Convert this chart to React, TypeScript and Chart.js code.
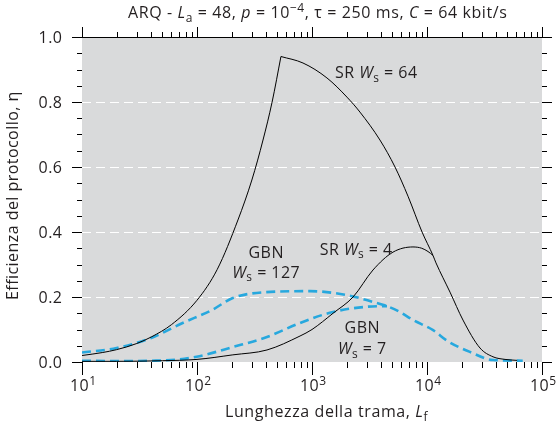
import React, { useEffect, useRef } from "react";
import { Chart, registerables } from "chart.js";
Chart.register(...registerables);

// ---- axis data ----
const xMin = 10;
const xMax = 100000;
const yMin = 0;
const yMax = 1.0;
const yMajorTicks = [0, 0.2, 0.4, 0.6, 0.8, 1.0];
const yTickLabels = ["0.0", "0.2", "0.4", "0.6", "0.8", "1.0"];
const yGridValues = [0.2, 0.4, 0.6, 0.8];
const xDecades = [10, 100, 1000, 10000, 100000];
const xExponents = ["1", "2", "3", "4", "5"];

// ---- series ----
// SR Ws = 64 : rising branch and falling branch (sharp peak)
const srW64RiseL = [10, 15, 20, 30, 40, 60, 100, 150, 227, 300, 375, 450, 537];
const srW64RiseEta = [0.02, 0.029, 0.038, 0.057, 0.077, 0.115, 0.19, 0.285, 0.437, 0.56, 0.683, 0.8, 0.94];
const srW64FallL = [537, 835, 1349, 2014, 2612, 3898, 5270, 6838, 9057, 11270, 11970, 15850, 20560, 28900, 37500, 47700, 60700];
const srW64FallEta = [0.94, 0.92, 0.874, 0.815, 0.769, 0.683, 0.6, 0.51, 0.4, 0.328, 0.305, 0.215, 0.129, 0.043, 0.016, 0.008, 0.005];

// SR Ws = 4 (joins SR Ws = 64 at the right)
const srW4L = [10, 20, 50, 100, 205, 406, 787, 1000, 1524, 2275, 3390, 5060, 7550, 9000, 10200, 11270];
const srW4Eta = [0.002, 0.002, 0.004, 0.008, 0.022, 0.037, 0.08, 0.1, 0.15, 0.2, 0.283, 0.338, 0.354, 0.35, 0.34, 0.328];

// GBN Ws = 127
const gbnW127L = [10, 20, 40, 75, 135, 205, 400, 960, 2000, 3390, 4490, 5800, 7500, 11300, 15000, 23600, 37500, 68000];
const gbnW127Eta = [0.029, 0.043, 0.074, 0.12, 0.16, 0.197, 0.215, 0.218, 0.206, 0.185, 0.172, 0.154, 0.13, 0.098, 0.065, 0.031, 0.006, 0.004];

// GBN Ws = 7 (joins GBN Ws = 127)
const gbnW7L = [10, 20, 40, 70, 105, 205, 406, 787, 1523, 3000, 4490];
const gbnW7Eta = [0.004, 0.003, 0.004, 0.008, 0.018, 0.046, 0.077, 0.12, 0.154, 0.17, 0.172];

// ---- annotations (data coordinates) ----
type Run = { t: string; it?: boolean; sub?: boolean; sup?: boolean };
const annotL = [3606, 2415, 398, 398, 2722, 2722];
const annotEta = [0.892, 0.348, 0.338, 0.277, 0.108, 0.043];
const annotRuns: Run[][] = [
  [{ t: "SR " }, { t: "W", it: true }, { t: "s", sub: true }, { t: " = 64" }],
  [{ t: "SR " }, { t: "W", it: true }, { t: "s", sub: true }, { t: " = 4" }],
  [{ t: "GBN" }],
  [{ t: "W", it: true }, { t: "s", sub: true }, { t: " = 127" }],
  [{ t: "GBN" }],
  [{ t: "W", it: true }, { t: "s", sub: true }, { t: " = 7" }],
];

const titleRuns: Run[] = [
  { t: "ARQ - " }, { t: "L", it: true }, { t: "a", sub: true }, { t: " = 48, " },
  { t: "p", it: true }, { t: " = 10" }, { t: "\u22124", sup: true }, { t: ", \u03c4 = 250 ms, " },
  { t: "C", it: true }, { t: " = 64 kbit/s" },
];
const xTitleRuns: Run[] = [{ t: "Lunghezza della trama, " }, { t: "L", it: true }, { t: "f", sub: true }];
const yTitleRuns: Run[] = [{ t: "Efficienza del protocollo, \u03b7" }];

const FAMILY = '"Open Sans", "DejaVu Sans", sans-serif';
const BLUE = "#27a8de";
const GRAY_BG = "#d9dadb";
const TEXT = "#231f20";

function drawRuns(ctx: CanvasRenderingContext2D, runs: Run[], x: number, y: number, size: number, align: "left" | "center" | "right", spacing = 0.45) {
  const fontFor = (r: Run) => `${r.it ? "italic " : ""}${r.sub || r.sup ? Math.round(size * 0.72) : size}px ${FAMILY}`;
  let w = 0;
  for (const r of runs) {
    ctx.font = fontFor(r);
    for (const ch of r.t) w += ctx.measureText(ch).width + spacing;
  }
  w -= spacing;
  let cx = align === "center" ? x - w / 2 : align === "right" ? x - w : x;
  ctx.textAlign = "left";
  ctx.textBaseline = "alphabetic";
  for (const r of runs) {
    ctx.font = fontFor(r);
    const dy = r.sub ? size * 0.22 : r.sup ? -size * 0.38 : 0;
    for (const ch of r.t) {
      ctx.fillText(ch, cx, y + dy);
      cx += ctx.measureText(ch).width + spacing;
    }
  }
}

const framePlugin = {
  id: "frame",
  beforeDraw(chart: any) {
    const { ctx, chartArea } = chart;
    const ys = chart.scales.y;
    ctx.save();
    ctx.fillStyle = GRAY_BG;
    ctx.fillRect(chartArea.left, chartArea.top, chartArea.right - chartArea.left, chartArea.bottom - chartArea.top);
    ctx.strokeStyle = "#ffffff";
    ctx.lineWidth = 1;
    ctx.setLineDash([9, 5]);
    for (const v of yGridValues) {
      const py = Math.round(ys.getPixelForValue(v)) + 0.5;
      ctx.beginPath();
      ctx.moveTo(chartArea.left, py);
      ctx.lineTo(chartArea.right, py);
      ctx.stroke();
    }
    ctx.restore();
  },
  afterDraw(chart: any) {
    const { ctx, chartArea } = chart;
    const xs = chart.scales.x;
    const ys = chart.scales.y;
    const L = chartArea.left, R = chartArea.right, T = chartArea.top, B = chartArea.bottom;
    ctx.save();
    ctx.strokeStyle = "#000";
    ctx.fillStyle = TEXT;
    ctx.lineWidth = 1;
    ctx.setLineDash([]);
    // top border
    ctx.beginPath();
    ctx.moveTo(L, Math.round(T) + 0.5);
    ctx.lineTo(R, Math.round(T) + 0.5);
    ctx.stroke();
    // y ticks (left and right, outward)
    for (let i = 0; i <= 20; i++) {
      const v = i * 0.05;
      const py = Math.round(ys.getPixelForValue(v)) + 0.5;
      const major = i % 4 === 0;
      const len = major ? 10 : 5;
      ctx.beginPath();
      ctx.moveTo(L - len, py);
      ctx.lineTo(L, py);
      ctx.moveTo(R, py);
      ctx.lineTo(R + len, py);
      ctx.stroke();
    }
    // x ticks (bottom and top, outward)
    for (let d = 0; d < xDecades.length; d++) {
      const base = xDecades[d];
      for (let m = 1; m <= 9; m++) {
        const v = base * m;
        if (v > xMax) break;
        const px = Math.round(xs.getPixelForValue(v)) + 0.5;
        const major = m === 1;
        const lenB = major ? 13 : 6;
        const lenT = major ? 10 : 5;
        ctx.beginPath();
        ctx.moveTo(px, B);
        ctx.lineTo(px, B + lenB);
        ctx.moveTo(px, T);
        ctx.lineTo(px, T - lenT);
        ctx.stroke();
      }
    }
    // y tick labels
    for (let i = 0; i < yMajorTicks.length; i++) {
      const py = ys.getPixelForValue(yMajorTicks[i]);
      drawRuns(ctx, [{ t: yTickLabels[i] }], L - 20, py + 6, 16, "right");
    }
    // x tick labels
    for (let i = 0; i < xDecades.length; i++) {
      const px = xs.getPixelForValue(xDecades[i]);
      drawRuns(ctx, [{ t: "10" }, { t: xExponents[i], sup: true }], px + 1, B + 29, 16, "center");
    }
    // titles (anchored at their left ends)
    drawRuns(ctx, titleRuns, L + 46, 18, 16, "left", 0.6);
    drawRuns(ctx, xTitleRuns, L + 143, 417, 16, "left", 0.6);
    ctx.save();
    ctx.translate(18, B - 62);
    ctx.rotate(-Math.PI / 2);
    drawRuns(ctx, yTitleRuns, 0, 0, 16, "left", 0.45);
    ctx.restore();
    // annotations
    for (let i = 0; i < annotRuns.length; i++) {
      const px = xs.getPixelForValue(annotL[i]);
      const py = ys.getPixelForValue(annotEta[i]);
      drawRuns(ctx, annotRuns[i], px, py + 6, 16, "center");
    }
    ctx.restore();
  },
};

function toPoints(xsArr: number[], ysArr: number[]) {
  return xsArr.map((x, i) => ({ x, y: ysArr[i] }));
}

const blackLine = { borderColor: "#000", borderWidth: 1, pointRadius: 0, cubicInterpolationMode: "monotone", fill: false };
const blueLine = { borderColor: BLUE, borderWidth: 2.6, borderDash: [9, 5], pointRadius: 0, cubicInterpolationMode: "monotone", fill: false };

export default function App() {
  const ref = useRef<HTMLCanvasElement | null>(null);
  useEffect(() => {
    document.body.style.margin = "0";
    const canvas = ref.current!;
    const chart = new Chart(canvas, {
      type: "line",
      data: {
        datasets: [
          { label: "SR Ws=64 (rise)", data: toPoints(srW64RiseL, srW64RiseEta), ...blackLine },
          { label: "SR Ws=64 (fall)", data: toPoints(srW64FallL, srW64FallEta), ...blackLine },
          { label: "SR Ws=4", data: toPoints(srW4L, srW4Eta), ...blackLine },
          { label: "GBN Ws=127", data: toPoints(gbnW127L, gbnW127Eta), ...blueLine },
          { label: "GBN Ws=7", data: toPoints(gbnW7L, gbnW7Eta), ...blueLine },
        ],
      },
      options: {
        animation: false,
        responsive: false,
        devicePixelRatio: 1,
        layout: { padding: { left: 82, right: 17, top: 37, bottom: 64 } },
        plugins: { legend: { display: false }, tooltip: { enabled: false }, title: { display: false } },
        scales: {
          x: {
            type: "logarithmic",
            min: xMin,
            max: xMax,
            grid: { display: false, drawTicks: false },
            border: { display: false },
            ticks: { display: false },
          },
          y: {
            type: "linear",
            min: yMin,
            max: yMax,
            grid: { display: false, drawTicks: false },
            border: { display: false },
            ticks: { display: false },
          },
        },
      },
      plugins: [framePlugin],
    } as any);
    return () => chart.destroy();
  }, []);
  return <canvas ref={ref} width={559} height={426} style={{ display: "block" }} />;
}
